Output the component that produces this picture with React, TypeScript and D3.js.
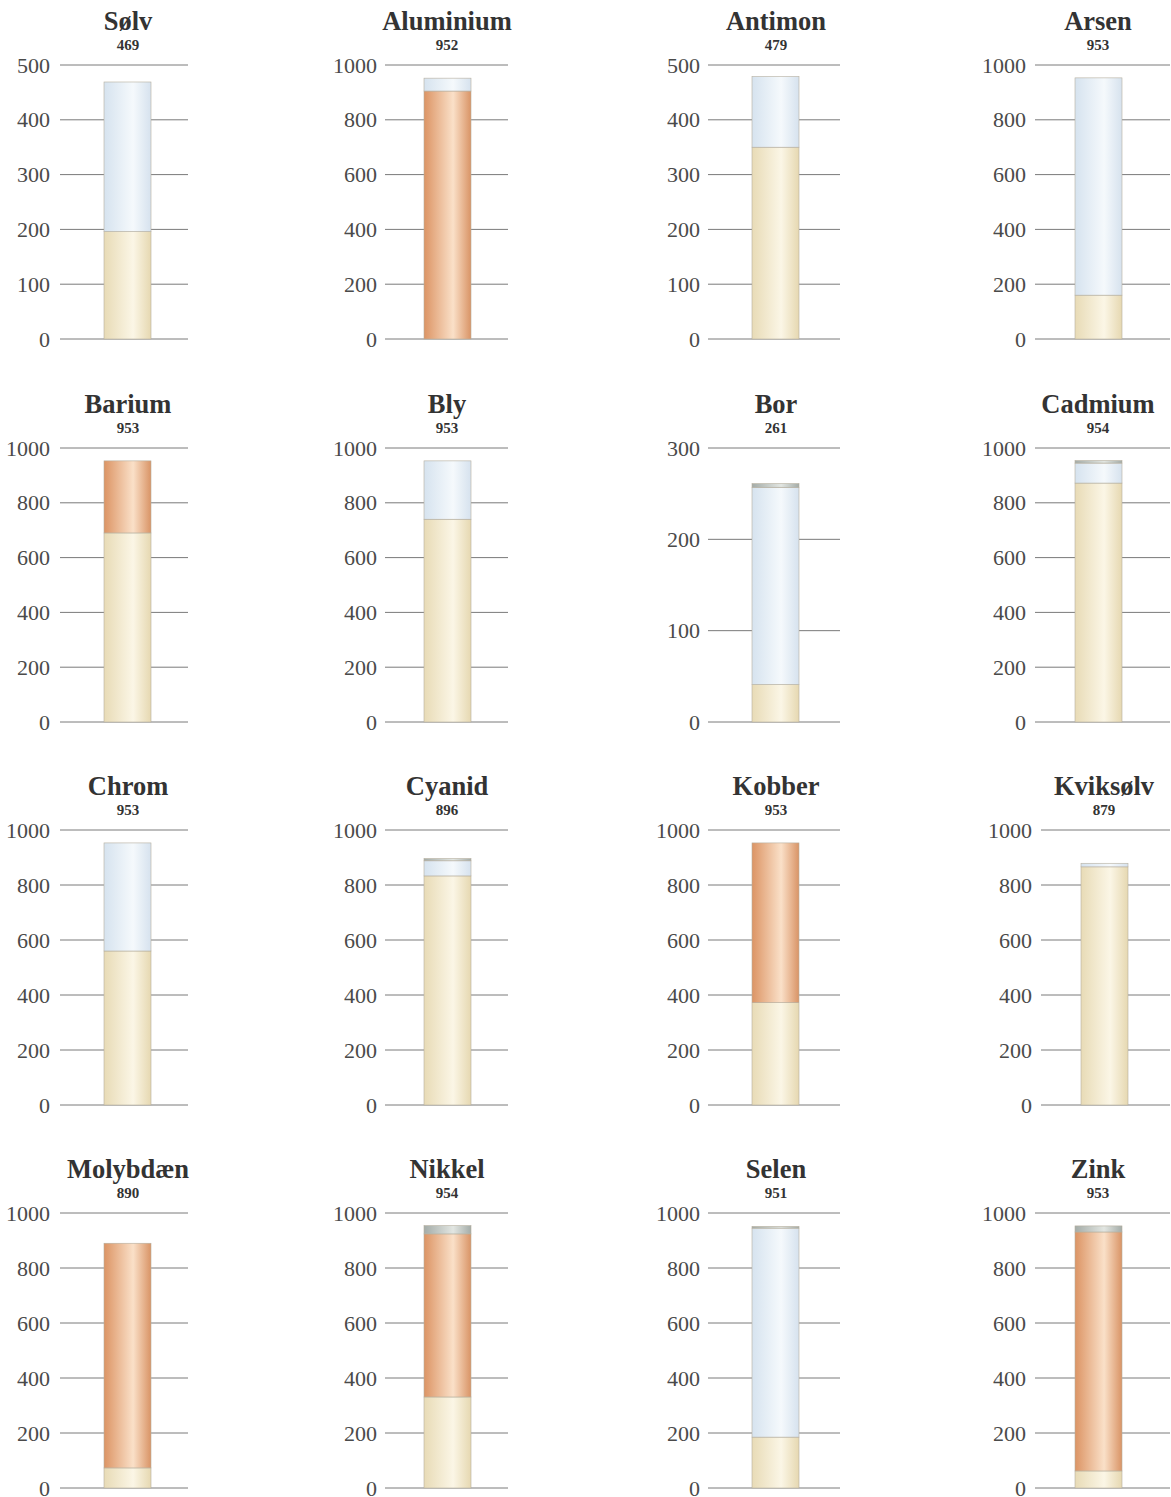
import React from "react";
import * as d3 from "d3";

const names = ["Sølv","Aluminium","Antimon","Arsen","Barium","Bly","Bor","Cadmium","Chrom","Cyanid","Kobber","Kviksølv","Molybdæn","Nikkel","Selen","Zink"];
const totals = [469,952,479,953,953,953,261,954,953,896,953,879,890,954,951,953];
const axisMax = [500,1000,500,1000,1000,1000,300,1000,1000,1000,1000,1000,1000,1000,1000,1000];
// segment values bottom to top
const beige = [196,0,350,160,690,740,41,872,560,833,372,866,73,331,185,62];
const orange = [0,905,0,0,263,0,0,0,0,0,581,0,817,593,0,869];
const blue = [273,47,129,793,0,213,216,73,393,55,0,13,0,0,760,0];
const gray = [0,0,0,0,0,0,4,9,0,8,0,0,0,30,6,22];
const tickStep = [100,200,100,200,200,200,100,200,200,200,200,200,200,200,200,200];

const segKeys = ["beige","orange","blue","gray"];
const segData: Record<string, number[]> = { beige, orange, blue, gray };
const grads: Record<string, string[]> = {
  beige: ["#e8dbb6", "#fbf6e6", "#e6d8b1"],
  orange: ["#dc9464", "#fae0c8", "#d99466"],
  blue: ["#d6e3ef", "#f5f9fc", "#d6e2ee"],
  gray: ["#a4aca8", "#e2e6e2", "#a4aca8"],
};

const colLabelRight = [50, 377, 700, 1026];
const colLineStart = [60, 385, 708, 1035];
const colLineEnd = [188, 508, 840, 1170];
const colBarX = [104, 424, 752, 1075];
const colTitle = [128, 447, 776, 1098];
const rowTop = [65, 448, 830, 1213];
const rowBottom = [339, 722, 1105, 1488];
const barW = 47;

export default function App() {
  const font = "'Liberation Serif', 'DejaVu Serif', serif";
  return (
    <svg width={1171} height={1497} style={{ position: "absolute", left: 0, top: 0, background: "#fff" }}>
      <defs>
        {segKeys.map((k) => (
          <linearGradient key={k} id={`g-${k}`} x1="0" x2="1" y1="0" y2="0">
            <stop offset="0%" stopColor={grads[k][0]} />
            <stop offset="62%" stopColor={grads[k][1]} />
            <stop offset="100%" stopColor={grads[k][2]} />
          </linearGradient>
        ))}
      </defs>
      {names.map((name, i) => {
        const c = i % 4;
        const r = Math.floor(i / 4);
        const shift = name === "Kviksølv" ? 6 : 0;
        const y = d3.scaleLinear().domain([0, axisMax[i]]).range([rowBottom[r], rowTop[r]]);
        const ticks = d3.range(0, axisMax[i] + 1, tickStep[i]);
        let acc = 0;
        const segs = segKeys
          .map((k) => {
            const v = segData[k][i];
            const s = { k, y0: acc, y1: acc + v };
            acc += v;
            return s;
          })
          .filter((s) => s.y1 > s.y0);
        const bx = colBarX[c] + shift;
        return (
          <g key={name}>
            <text x={colTitle[c] + shift} y={rowTop[r] - 35} textAnchor="middle" fontFamily={font} fontWeight="bold" fontSize={26.5} fill="#333">{name}</text>
            <text x={colTitle[c] + shift} y={rowTop[r] - 15} textAnchor="middle" fontFamily={font} fontWeight="bold" fontSize={15} fill="#333">{totals[i]}</text>
            {ticks.map((t) => (
              <g key={t}>
                <line x1={colLineStart[c] + shift} x2={colLineEnd[c] + (c === 3 ? 0 : shift)} y1={y(t)} y2={y(t)} stroke="#7a7a7a" strokeWidth={1} />
                <text x={colLabelRight[c] + shift} y={y(t) + 7.5} textAnchor="end" fontFamily={font} fontSize={22} fill="#4a4a4a">{t}</text>
              </g>
            ))}
            {segs.map((s) => (
              <rect key={s.k} x={bx} width={barW} y={y(s.y1)} height={y(s.y0) - y(s.y1)} fill={`url(#g-${s.k})`} stroke="#b5ae9e" strokeWidth={0.6} />
            ))}
          </g>
        );
      })}
    </svg>
  );
}
